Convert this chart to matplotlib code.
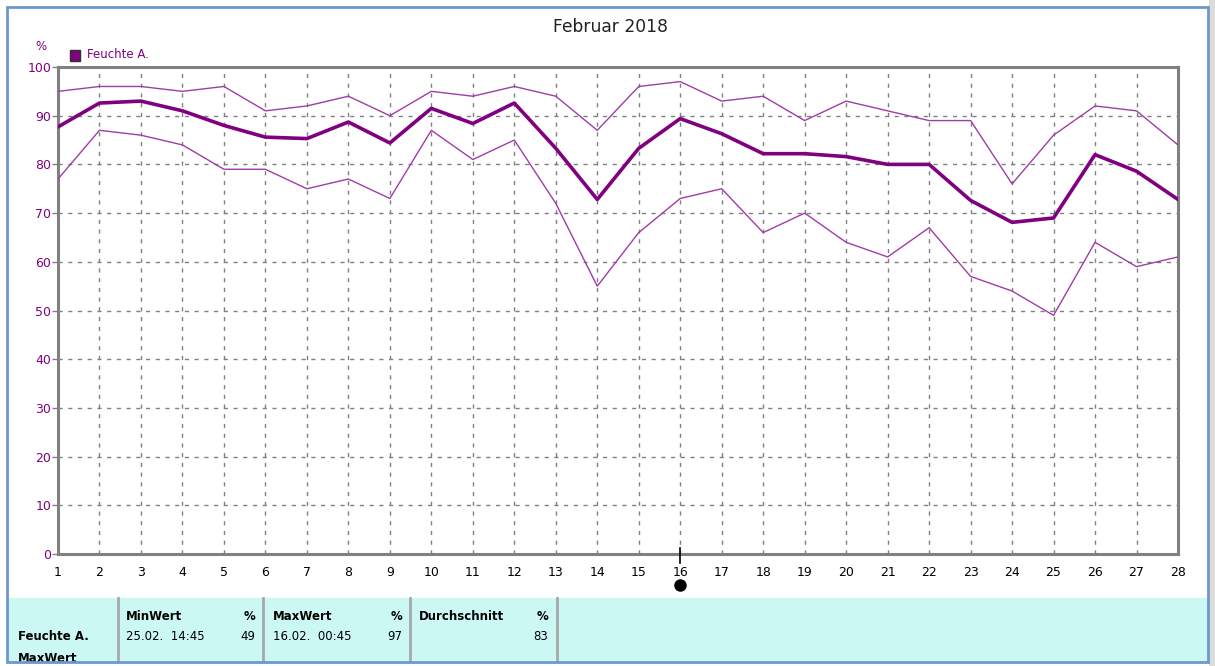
import matplotlib
matplotlib.use('Agg')
import matplotlib.pyplot as plt
from matplotlib.patches import Rectangle

plt.rcParams['font.family'] = ['DejaVu Sans']

W, H = 1215, 666

days = list(range(1, 29))
feuchte_max = [95, 96, 96, 95, 96, 91, 92, 94, 90, 95, 94, 96, 94, 87,
               96, 97, 93, 94, 89, 93, 91, 89, 89, 76, 86, 92, 91, 84]
feuchte_avg = [87.7, 92.6, 93.0, 91.0, 88.0, 85.6, 85.3, 88.7, 84.4, 91.5,
               88.4, 92.6, 83.3, 72.8, 83.3, 89.4, 86.3, 82.2, 82.2, 81.6,
               80.0, 80.0, 72.6, 68.1, 69.0, 82.0, 78.6, 72.8]
feuchte_min = [77, 87, 86, 84, 79, 79, 75, 77, 73, 87, 81, 85, 72, 55,
               66, 73, 75, 66, 70, 64, 61, 67, 57, 54, 49, 64, 59, 61]
cursor_day = 16

# summary table below the chart
tbl_headers = ['MinWert', 'MaxWert', 'Durchschnitt']
tbl_times = ['25.02.  14:45', '16.02.  00:45', '']
tbl_values = ['49', '97', '83']

PURPLE = '#800080'
PURPLE_L = '#a03ca8'
GRID = '#808080'


def fx(x):
    return x / W


def fy(y):
    return 1 - y / H


fig = plt.figure(figsize=(W / 100, H / 100), dpi=100)
fig.patch.set_facecolor('white')

ax = fig.add_axes([fx(58), fy(554), fx(1178) - fx(58), fy(67) - fy(554)])
ax.plot(days, feuchte_max, color=PURPLE_L, lw=1.0, zorder=3)
ax.plot(days, feuchte_min, color=PURPLE_L, lw=1.0, zorder=3)
ax.plot(days, feuchte_avg, color=PURPLE, lw=2.6, zorder=4)

ax.set_xlim(1, 28)
ax.set_ylim(0, 100)
ax.set_xticks(days)
ax.set_yticks(range(0, 101, 10))
ax.tick_params(axis='y', colors=GRID, labelcolor=PURPLE, labelsize=9,
               length=4, width=1, pad=1)
ax.tick_params(axis='x', colors=GRID, labelcolor='black', labelsize=9,
               length=0, width=1, pad=9)
ax.grid(True, color=GRID, ls=(0, (3, 4)), lw=1)
for s in ax.spines.values():
    s.set_color(GRID)
    s.set_linewidth(2.2)

# cursor marker at day 16
ax.plot([cursor_day, cursor_day], [1.2, -1.9], color='black', lw=1.2,
        clip_on=False, zorder=6)
ax.plot([cursor_day], [-6.4], 'o', color='black', ms=8, clip_on=False, zorder=6)

fig.text(fx(610), fy(27), 'Februar 2018', ha='center', va='center',
         fontsize=12.3, color='#222222')
fig.text(fx(41), fy(47), '%', ha='center', va='center', fontsize=8.5,
         color=PURPLE)
fig.patches.append(Rectangle((fx(70), fy(61)), fx(10), 11 / H,
                             transform=fig.transFigure, facecolor=PURPLE,
                             edgecolor='#303030', lw=1))
fig.text(fx(87), fy(55), 'Feuchte A.', ha='left', va='center', fontsize=8.5,
         color=PURPLE)

# table panel
fig.patches.append(Rectangle((fx(8), fy(661)), fx(1200), 63 / H,
                             transform=fig.transFigure, facecolor='#ccf8f4',
                             edgecolor='none', zorder=0))
for xs in [118, 263, 410, 557]:
    fig.lines.append(plt.Line2D([fx(xs), fx(xs)], [fy(598), fy(661)],
                                transform=fig.transFigure, color='#a8a8a8',
                                lw=2))
fig.text(fx(18), fy(636), 'Feuchte A.', ha='left', va='center',
         fontsize=8.5, fontweight='bold')
fig.text(fx(18), fy(659), 'MaxWert', ha='left', va='center',
         fontsize=8.5, fontweight='bold')
col_left = [126, 273, 419]
col_right = [255, 402, 548]
for i in range(3):
    fig.text(fx(col_left[i]), fy(617), tbl_headers[i], ha='left',
             va='center', fontsize=8.5, fontweight='bold')
    fig.text(fx(col_right[i]), fy(617), '%', ha='right', va='center',
             fontsize=8.5, fontweight='bold')
    fig.text(fx(col_left[i]), fy(636), tbl_times[i], ha='left', va='center',
             fontsize=8.5)
    fig.text(fx(col_right[i]), fy(636), tbl_values[i], ha='right',
             va='center', fontsize=8.5)

# mask below the panel, window frame and right strip
fig.patches.append(Rectangle((0, 0), 1, fy(662), transform=fig.transFigure,
                             facecolor='white', edgecolor='none', zorder=10))
fig.patches.append(Rectangle((fx(1209), 0), fx(6), 1,
                             transform=fig.transFigure, facecolor='#dcdcdc',
                             edgecolor='none', zorder=10))
fig.patches.append(Rectangle((fx(7), fy(662)), fx(1201), 655 / H,
                             transform=fig.transFigure, facecolor='none',
                             edgecolor='#6d97cf', lw=2, zorder=11))

fig.savefig('out.png', dpi=100)
